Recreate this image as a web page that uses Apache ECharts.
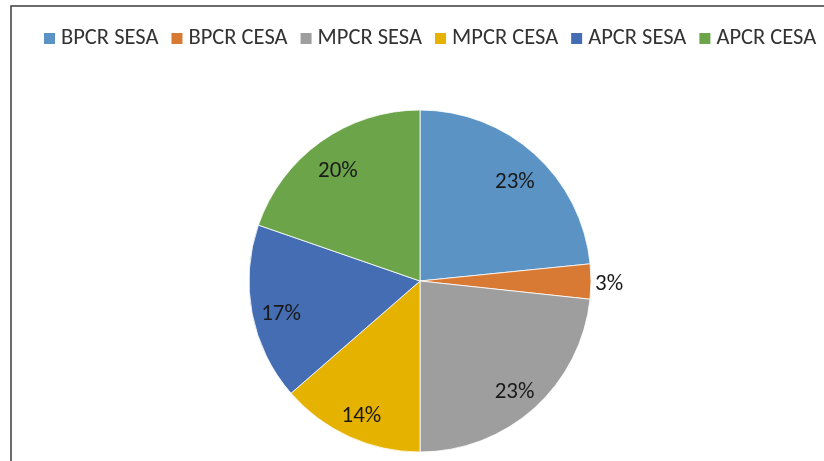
<!DOCTYPE html>
<html>
<head>
<meta charset="utf-8">
<script src="https://cdn.jsdelivr.net/npm/echarts@6/dist/echarts.min.js"></script>
<style>
html,body{margin:0;padding:0;background:#fff;}
#chart{width:824px;height:461px;}
</style>
</head>
<body>
<div id="chart"></div>
<script>
const categories = ['BPCR SESA', 'BPCR CESA', 'MPCR SESA', 'MPCR CESA', 'APCR SESA', 'APCR CESA'];
const values = [23.4, 3.3, 23.3, 13.6, 16.7, 19.7];
const colors = ['#5B93C4', '#D87A34', '#9E9E9E', '#E5B200', '#446DB3', '#6CA44A'];

const FONT = 'Carlito, Lato, sans-serif';
const R = 171;
const data = categories.map((c, i) => ({ name: c, value: values[i], itemStyle: { color: colors[i] } }));
const labelData = categories.map((c, i) => {
  const d = { name: c, value: values[i] };
  if (i === 1) {
    d.label = { position: 'outside' };
    d.labelLine = { show: false, length: 0, length2: 0 };
  }
  return d;
});

const chart = echarts.init(document.getElementById('chart'), null, { renderer: 'canvas' });
chart.setOption({
  animation: false,
  backgroundColor: '#fff',
  graphic: [{
    type: 'rect',
    shape: { x: 11, y: 6, width: 900, height: 500 },
    style: { fill: 'none', stroke: '#3c3c3c', lineWidth: 1.5 },
    z: 0
  }],
  legend: {
    data: categories,
    left: 37,
    top: 22,
    icon: 'rect',
    itemWidth: 13,
    itemHeight: 13,
    itemGap: 11,
    textStyle: { fontFamily: FONT, fontSize: 22.5, color: '#333333' }
  },
  series: [{
    type: 'pie',
    center: [420, 281],
    radius: [0, R],
    startAngle: 90,
    clockwise: true,
    silent: true,
    label: { show: false },
    labelLine: { show: false },
    itemStyle: { borderColor: '#ffffff', borderWidth: 0.8 },
    data: data
  }, {
    type: 'pie',
    center: [420, 281],
    radius: [106, R],
    startAngle: 90,
    clockwise: true,
    silent: true,
    percentPrecision: 0,
    itemStyle: { color: 'rgba(0,0,0,0)' },
    label: {
      show: true,
      position: 'inside',
      formatter: '{d}%',
      fontFamily: FONT,
      fontSize: 23,
      color: '#1a1a1a'
    },
    labelLayout: function (p) {
      return { dy: p.dataIndex === 1 ? 3 : 6, dx: p.dataIndex === 1 ? -1 : 0 };
    },
    labelLine: { show: false },
    data: labelData
  }]
});
</script>
</body>
</html>
